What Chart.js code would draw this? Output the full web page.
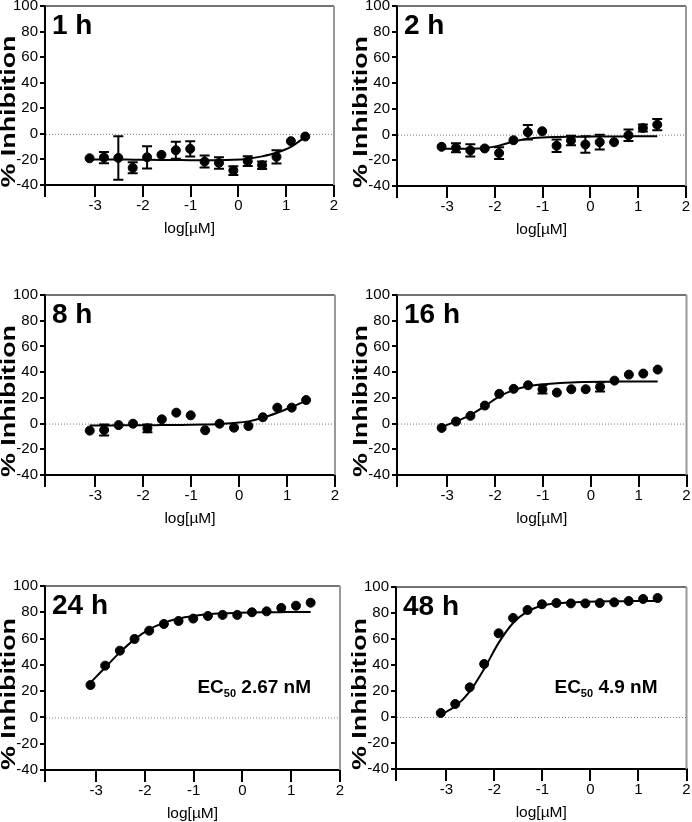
<!DOCTYPE html>
<html>
<head>
<meta charset="utf-8">
<script src="https://cdn.jsdelivr.net/npm/chart.js@4.4.0/dist/chart.umd.min.js"></script>
<style>
  body { margin: 0; width: 692px; height: 822px; overflow: hidden; background: #fff; position: relative }
  canvas { position: absolute }
</style>
</head>
<body>
<script>
// log[uM], dilucion 1:2 desde 25 uM
const logConc = [-3.117, -2.816, -2.515, -2.214, -1.913, -1.612, -1.311, -1.010, -0.709, -0.408, -0.107, 0.194, 0.495, 0.796, 1.097, 1.398]

const titulos = ["1 h", "2 h", "8 h", "16 h", "24 h", "48 h"]
const ec50s = ["", "", "", "", "2.67 nM", "4.9 nM"]

const inhib1h = [-19.1, -18.5, -18.8, -26.6, -18.3, -16.4, -12.8, -11.7, -21.7, -22.7, -28.7, -21.4, -24.5, -18, -5.7, -2.1]
const error1h = [0, 4.4, 17, 4.3, 8.7, 0, 6.6, 6, 4.7, 4.5, 3.4, 3.8, 2.9, 5.2, 0, 0]
const ajuste1h = [-20, -20, -20, -20.2, -20.3, -20.4, -20.5, -20.6, -20.6, -20.6, -20.3, -19.4, -17.6, -14.8, -10.2, -2.4]

const inhib2h = [-9.5, -10.3, -12.3, -10.8, -14.4, -4.4, 1.8, 2.6, -8.7, -4.6, -7.7, -5.9, -5.9, -0.5, 5.1, 7.7]
const error2h = [0, 3.5, 4.7, 0, 4.6, 0, 5.6, 0, 4.9, 3.7, 6.4, 5.8, 0, 4.5, 2.8, 4.4]
const ajuste2h = [-11, -11, -11, -10.5, -8.6, -5.4, -3.3, -2.3, -1.9, -1.7, -1.6, -1.5, -1.5, -1.4, -1.4, -1.3]

const inhib8h = [-5.5, -5, -1.2, -0.1, -3.7, 3.3, 8.5, 6.4, -5.2, -0.1, -3.2, -1.9, 4.9, 12.4, 12.4, 18.3]
const error8h = [0, 4.3, 0, 0, 3, 0, 0, 0, 0, 0, 0, 0, 0, 0, 0, 0]
const ajuste8h = [-1.5, -1.5, -1.4, -1.4, -1.3, -1.2, -1.1, -1.0, -0.8, -0.4, 0.4, 1.7, 4.5, 8.4, 12.9, 17.7]

const inhib16h = [-3.4, 1.6, 6, 14, 23.1, 27, 29.8, 26.7, 24.1, 26.7, 26.7, 28.5, 33.4, 38.1, 38.9, 42]
const error16h = [0, 0, 0, 0, 0, 0, 0, 3.3, 0, 0, 0, 3.6, 0, 0, 0, 0]
const ajuste16h = [-2.6, 1.6, 6.7, 13.5, 21.2, 26, 29, 30.6, 31.4, 32, 32.3, 32.5, 32.6, 32.7, 32.7, 32.7]

const inhib24h = [24.7, 39.4, 50.8, 59.7, 66, 71.1, 73.4, 75.2, 77.2, 78, 78, 80, 80.7, 83.3, 85, 87.3]
const error24h = [0, 0, 0, 0, 0, 0, 0, 0, 0, 0, 0, 0, 0, 0, 0, 0]
const ajuste24h = [26.5, 38, 49.5, 59.4, 67, 71.9, 75.2, 77.2, 78.5, 79.2, 79.6, 79.9, 80, 80.1, 80.2, 80.2]

const inhib48h = [3.1, 10, 22.8, 40.8, 64.4, 76.2, 82.3, 86.7, 87.7, 87.4, 87.4, 87.7, 88.2, 89.2, 90.8, 91.5]
const error48h = [0, 0, 0, 0, 0, 0, 0, 0, 0, 0, 0, 0, 0, 0, 0, 0]
const ajuste48h = [1.8, 8.2, 19.5, 37, 57, 72.3, 81.3, 85.6, 87.4, 88.2, 88.6, 88.9, 89, 89.1, 89.2, 89.2]

const ticksX = [-3, -2, -1, 0, 1, 2]
const minX = -4.05

Chart.defaults.font.family = "'Liberation Sans', Arial, sans-serif"
Chart.defaults.color = "#000"

// caja = area del grafico en la pagina [izq, arriba, der, abajo]
const paneles = [
  { titulo: titulos[0], valores: inhib1h, errores: error1h, ajuste: ajuste1h, ec50: ec50s[0], caja: [45, 6, 334, 185] },
  { titulo: titulos[1], valores: inhib2h, errores: error2h, ajuste: ajuste2h, ec50: ec50s[1], caja: [397, 6, 686, 186] },
  { titulo: titulos[2], valores: inhib8h, errores: error8h, ajuste: ajuste8h, ec50: ec50s[2], caja: [45, 295, 335, 475] },
  { titulo: titulos[3], valores: inhib16h, errores: error16h, ajuste: ajuste16h, ec50: ec50s[3], caja: [397, 295, 688, 475] },
  { titulo: titulos[4], valores: inhib24h, errores: error24h, ajuste: ajuste24h, ec50: ec50s[4], caja: [45, 586, 340, 770] },
  { titulo: titulos[5], valores: inhib48h, errores: error48h, ajuste: ajuste48h, ec50: ec50s[5], caja: [396, 587, 687, 769] }
]

const decoracion = {
  id: "decoracion",
  beforeDatasetsDraw: (chart) => {
    const { ctx, chartArea: a, scales } = chart
    const y0 = scales.y.getPixelForValue(0)
    ctx.save()
    ctx.strokeStyle = "#777"
    ctx.lineWidth = 1
    ctx.setLineDash([1, 2])
    ctx.beginPath()
    ctx.moveTo(a.left + 1, y0 + 0.5)
    ctx.lineTo(a.right, y0 + 0.5)
    ctx.stroke()
    ctx.setLineDash([])
    ctx.strokeStyle = "#444"
    ctx.lineWidth = 1.5
    ctx.beginPath()
    ctx.moveTo(a.left, a.top)
    ctx.lineTo(a.right, a.top)
    ctx.stroke()
    ctx.strokeStyle = "#999"
    ctx.lineWidth = 2
    ctx.beginPath()
    ctx.moveTo(a.right, a.top)
    ctx.lineTo(a.right, a.bottom)
    ctx.stroke()
    ctx.restore()
  },
  afterDatasetsDraw: (chart, args, opciones) => {
    const { ctx, chartArea: a, scales } = chart
    const panel = opciones.panel
    ctx.save()
    // barras de error
    ctx.strokeStyle = "#000"
    ctx.lineWidth = 2
    panel.errores.forEach((e, i) => {
      if (!e) return
      const px = scales.x.getPixelForValue(logConc[i])
      const arribaE = scales.y.getPixelForValue(panel.valores[i] + e)
      const abajoE = scales.y.getPixelForValue(panel.valores[i] - e)
      ctx.beginPath()
      ctx.moveTo(px, arribaE)
      ctx.lineTo(px, abajoE)
      ctx.moveTo(px - 5, arribaE)
      ctx.lineTo(px + 5, arribaE)
      ctx.moveTo(px - 5, abajoE)
      ctx.lineTo(px + 5, abajoE)
      ctx.stroke()
    })
    ctx.fillStyle = "#000"
    // titulo del panel
    ctx.font = "bold 28px 'Liberation Sans', Arial, sans-serif"
    ctx.textAlign = "left"
    ctx.textBaseline = "alphabetic"
    ctx.fillText(panel.titulo, a.left + 7, a.top + 28)
    // EC50
    if (panel.ec50) {
      const base = scales.y.getPixelForValue(18.5)
      const grande = "bold 19px 'Liberation Sans', Arial, sans-serif"
      const chico = "bold 11px 'Liberation Sans', Arial, sans-serif"
      ctx.font = grande
      const w1 = ctx.measureText("EC").width
      const w3 = ctx.measureText(" " + panel.ec50).width
      ctx.font = chico
      const w2 = ctx.measureText("50").width
      let x = a.right - 29 - (w1 + w2 + w3)
      ctx.font = grande
      ctx.fillText("EC", x, base)
      x += w1
      ctx.font = chico
      ctx.fillText("50", x, base + 4)
      x += w2
      ctx.font = grande
      ctx.fillText(" " + panel.ec50, x, base)
    }
    // titulos de ejes
    ctx.font = "15.5px 'Liberation Sans', Arial, sans-serif"
    ctx.textAlign = "center"
    ctx.textBaseline = "middle"
    ctx.fillText("log[\u00b5M]", (a.left + a.right) / 2, a.bottom + 44)
    ctx.translate(a.left - 36, (a.top + a.bottom) / 2 + 16)
    ctx.rotate(-Math.PI / 2)
    ctx.font = "bold 21px 'Liberation Sans', Arial, sans-serif"
    const largo = ctx.measureText("% Inhibition").width
    ctx.scale(152 / largo, 1)
    ctx.fillText("% Inhibition", 0, 0)
    ctx.restore()
  }
}

const crearGrafico = (panel) => {
  const [izq, arriba, der, abajo] = panel.caja
  const col = izq < 346 ? 0 : 346
  const lienzo = document.createElement("canvas")
  const ancho = 346
  const alto = abajo - arriba + 100
  lienzo.width = ancho
  lienzo.height = alto
  lienzo.style.left = col + "px"
  lienzo.style.top = (arriba - 20) + "px"
  lienzo.style.width = ancho + "px"
  lienzo.style.height = alto + "px"
  document.body.appendChild(lienzo)

  new Chart(lienzo, {
    data: {
      datasets: [
        {
          type: "line",
          data: logConc.map((x, i) => ({ x: x, y: panel.ajuste[i] })),
          borderColor: "#000",
          borderWidth: 2,
          pointRadius: 0,
          cubicInterpolationMode: "monotone",
          fill: false,
          order: 2
        },
        {
          type: "scatter",
          data: logConc.map((x, i) => ({ x: x, y: panel.valores[i] })),
          backgroundColor: "#000",
          borderColor: "#000",
          pointRadius: 4.5,
          order: 1
        }
      ]
    },
    options: {
      responsive: false,
      animation: false,
      events: [],
      layout: { padding: { left: 0, top: 20, right: col + ancho - der, bottom: 50 } },
      plugins: { legend: { display: false }, tooltip: { enabled: false }, decoracion: { panel: panel } },
      scales: {
        x: {
          type: "linear",
          min: minX,
          max: 2,
          afterBuildTicks: (s) => { s.ticks = [minX].concat(ticksX).map((v) => ({ value: v })) },
          afterFit: (s) => { s.height = 30 },
          ticks: {
            callback: (v) => (v < -3.5 ? "" : String(v)),
            font: { size: 15 },
            color: "#000",
            padding: 0,
            maxRotation: 0,
            autoSkip: false
          },
          grid: { drawOnChartArea: false, tickLength: 12, color: "#000", lineWidth: 2 },
          border: { color: "#000", width: 2 }
        },
        y: {
          min: -40,
          max: 100,
          afterFit: (s) => { s.width = izq - col },
          ticks: { stepSize: 20, font: { size: 15 }, color: "#000", padding: 2 },
          grid: { drawOnChartArea: false, tickLength: 5, color: "#000", lineWidth: 2 },
          border: { color: "#000", width: 2 }
        }
      }
    },
    plugins: [decoracion]
  })
}

paneles.forEach(crearGrafico)
</script>
</body>
</html>
